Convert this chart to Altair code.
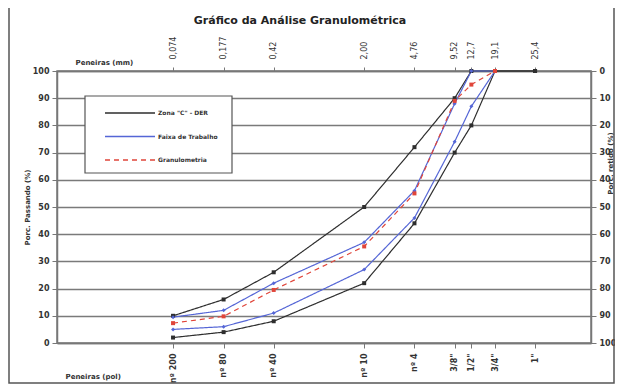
import json
import altair as alt
import pandas as pd

# ---------------- data ----------------
sieve_mm = [0.074, 0.177, 0.42, 2.0, 4.76, 9.52, 12.7, 19.1, 38.1]
mm_labels = ["0,074", "0,177", "0,42", "2,00", "4,76", "9,52", "12,7", "19,1", "25,4"]
pol_labels = ["nº 200", "nº 80", "nº 40", "nº 10", "nº 4", '3/8"', '1/2"', '3/4"', '1"']

zona_sup = [10, 16, 26, 50, 72, 90, 100, 100, 100]
zona_inf = [2, 4, 8, 22, 44, 70, 80, 100, 100]
faixa_sup = [9.5, 12, 22, 37, 56, 88, 100, 100]
faixa_inf = [5, 6, 11, 27, 46, 74, 87, 100]
granulometria = [7.3, 9.8, 19.5, 35.5, 55, 89, 95, 100]

legend_names = ['Zona "C" - DER', "Faixa de Trabalho", "Granulometria"]
legend_colors = ["#2e2e2e", "#5566d6", "#e0453a"]
legend_dashes = [[1, 0], [1, 0], [5, 4]]
marker_shapes = ["square", "diamond", "square"]

series = [
    ("zs", legend_names[0], zona_sup),
    ("zi", legend_names[0], zona_inf),
    ("fs", legend_names[1], faixa_sup),
    ("fi", legend_names[1], faixa_inf),
    ("gr", legend_names[2], granulometria),
]
rows = []
for gid, name, vals in series:
    for mm, v in zip(sieve_mm, vals):
        rows.append({"grupo": gid, "serie": name, "mm": mm, "pass": v})
df = pd.DataFrame(rows)


def label_expr(labels):
    expr = "''"
    for v, lab in reversed(list(zip(sieve_mm, labels))):
        expr = f"abs(datum.value - {v}) < 1e-6 ? {json.dumps(lab)} : ({expr})"
    return expr


FONT = "DejaVu Sans"
TXT = "#333333"
xscale = alt.Scale(type="log", domain=[0.01, 100])
yscale = alt.Scale(domain=[0, 100])
one = pd.DataFrame({"a": [0]})

frame = alt.Chart(one).mark_rect(
    fill="white", fillOpacity=0, stroke="#555555", strokeWidth=1.5
).encode(x=alt.value(-48), x2=alt.value(557), y=alt.value(-68), y2=alt.value(312))

lines = alt.Chart(df).mark_line(strokeWidth=1.2).encode(
    x=alt.X("mm:Q", scale=xscale, axis=alt.Axis(
        orient="bottom", values=sieve_mm, labelExpr=label_expr(pol_labels),
        labelAngle=-90, grid=False, tickSize=5, tickColor="#777777",
        domainColor="#777777", domainWidth=1.5,
        labelFont=FONT, labelFontSize=8, labelFontWeight="bold", labelColor=TXT,
        labelPadding=5, labelBaseline="middle",
        title="Peneiras (pol)", titleFont=FONT, titleFontSize=7, titleFontWeight="bold",
        titleColor=TXT, titleX=8, titleY=33, titleAlign="left", titleAngle=0,
        titleBaseline="middle",
    )),
    y=alt.Y("pass:Q", scale=yscale, axis=alt.Axis(
        orient="left", values=list(range(0, 101, 10)), grid=True,
        gridColor="#7a7a7a", gridWidth=1.3, tickColor="#777777", tickSize=5,
        domainColor="#777777", domainWidth=1.5,
        labelFont=FONT, labelFontSize=8, labelFontWeight="bold", labelColor=TXT,
        labelPadding=3,
        title="Porc. Passando (%)", titleFont=FONT, titleFontSize=7,
        titleFontWeight="bold", titleColor=TXT, titlePadding=2,
    )),
    color=alt.Color("serie:N", scale=alt.Scale(domain=legend_names, range=legend_colors), legend=None),
    strokeDash=alt.StrokeDash("serie:N", scale=alt.Scale(domain=legend_names, range=legend_dashes), legend=None),
    detail="grupo:N",
)

point_layers = []
for name, col, shp in zip(legend_names, legend_colors, marker_shapes):
    point_layers.append(
        alt.Chart(df).transform_filter(alt.datum.serie == name).mark_point(
            filled=True, size=16, opacity=1, color=col, shape=shp
        ).encode(
            x=alt.X("mm:Q", scale=xscale, axis=None),
            y=alt.Y("pass:Q", scale=yscale, axis=None),
        )
    )

# manual legend box (decoration)
legend_layers = [
    alt.Chart(one).mark_rect(fill="white", stroke="#555555", strokeWidth=1.2).encode(
        x=alt.value(28), x2=alt.value(175), y=alt.value(25), y2=alt.value(102)
    )
]
for i, (name, col, dash) in enumerate(zip(legend_names, legend_colors, legend_dashes)):
    yy = 42 + i * 23.5
    legend_layers.append(
        alt.Chart(one).mark_rule(color=col, strokeWidth=1.3, strokeDash=dash).encode(
            x=alt.value(48), x2=alt.value(98), y=alt.value(yy)
        )
    )
    legend_layers.append(
        alt.Chart(pd.DataFrame({"t": [name]})).mark_text(
            font=FONT, fontSize=6, fontWeight="bold", color=TXT, align="left", baseline="middle"
        ).encode(x=alt.value(101), y=alt.value(yy), text="t:N")
    )

top = alt.Chart(pd.DataFrame({"mm": sieve_mm})).mark_point(opacity=0).encode(
    x=alt.X("mm:Q", scale=xscale, axis=alt.Axis(
        orient="top", values=sieve_mm, labelExpr=label_expr(mm_labels),
        labelAngle=-90, grid=False, tickSize=4, tickColor="#777777",
        domainColor="#777777", domainWidth=1.5,
        labelFont=FONT, labelFontSize=8, labelColor=TXT,
        labelPadding=8, labelBaseline="middle",
        title="Peneiras (mm)", titleFont=FONT, titleFontSize=7, titleFontWeight="bold",
        titleColor=TXT, titleX=18, titleY=-9, titleAlign="left", titleAngle=0,
        titleBaseline="middle",
    )),
)

right = alt.Chart(pd.DataFrame({"ret": [0, 100]})).mark_point(opacity=0).encode(
    y=alt.Y("ret:Q", scale=alt.Scale(domain=[0, 100], reverse=True), axis=alt.Axis(
        orient="right", values=list(range(0, 101, 10)), grid=False,
        tickColor="#777777", tickSize=5, domainColor="#777777", domainWidth=1.5,
        labelFont=FONT, labelFontSize=8, labelFontWeight="bold", labelColor=TXT,
        labelPadding=3,
        title="Porc. retido (%)", titleFont=FONT, titleFontSize=7,
        titleFontWeight="bold", titleColor=TXT, titleAngle=270,
        titleX=19, titleY=92, titleAlign="center", titleBaseline="middle",
    )),
)

chart = alt.layer(frame, lines, *point_layers, *legend_layers, top, right).resolve_scale(
    y="independent"
).resolve_axis(x="independent", y="independent").properties(
    width=534, height=272,
    autosize=alt.AutoSizeParams(type="none"),
    padding={"left": 49, "top": 63, "right": 24, "bottom": 41},
    title=alt.TitleParams(
        "Gráfico da Análise Granulométrica", font=FONT, fontSize=11,
        fontWeight="bold", color="#222222", anchor="middle", dx=-24, dy=24, offset=0,
    ),
).configure_view(stroke="#777777", strokeWidth=1.5)

chart.save("out.html", embed_options={"renderer": "svg", "actions": False})
